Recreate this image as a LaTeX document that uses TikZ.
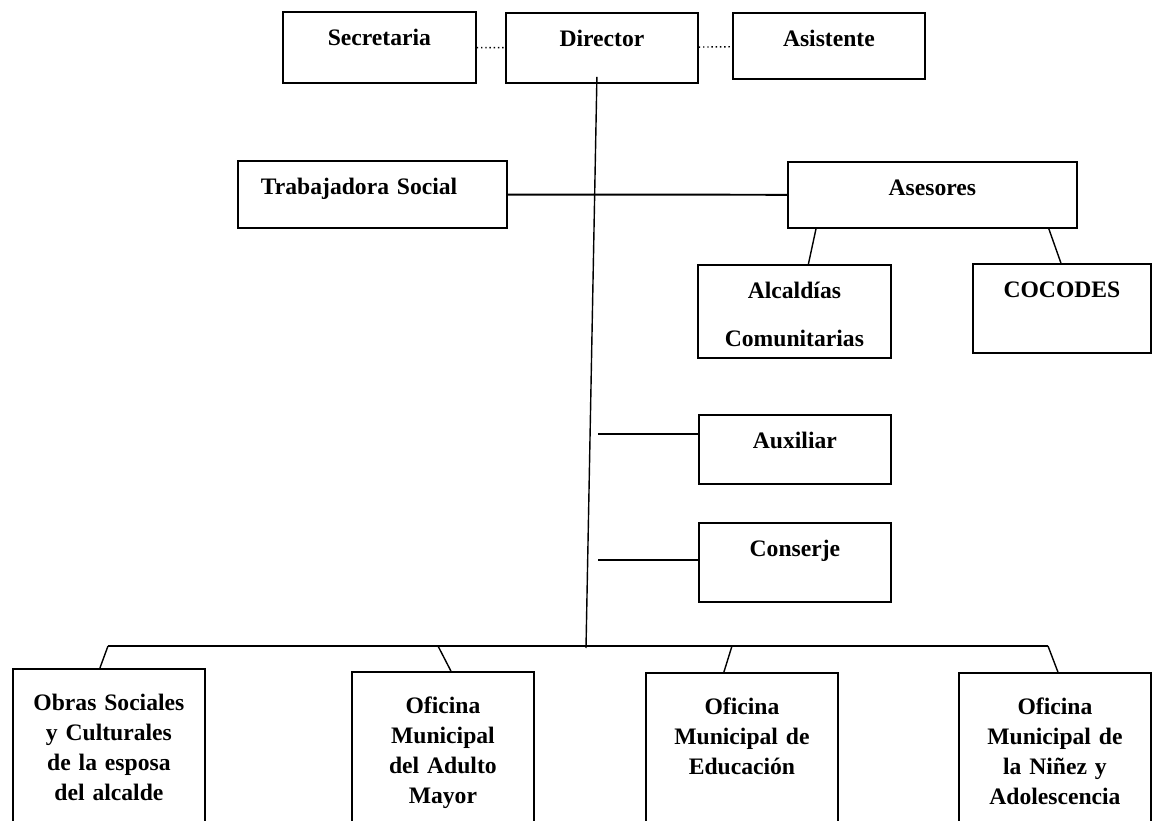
\documentclass[tikz,border=0pt]{standalone}
\usepackage{fontspec}
\setmainfont{Liberation Serif}
\usepackage{tikz}
\usetikzlibrary{calc}
\tikzstyle{orgbox}=[draw, line width=1.3pt, inner sep=0pt, anchor=north west, align=center, text width=4.8cm, text height=.85cm, font=\bfseries\fontsize{16.8}{21.3}\selectfont]
\tikzstyle{lowbox}=[orgbox, text height=1.05cm, text depth=3.5cm]
\tikzstyle{link}=[line width=1pt]
\begin{document}
\begin{tikzpicture}
	\clip (0,0) rectangle (28.825,-20.525);
%
	\node[orgbox, text width=4.825cm, text depth=.925cm] (sec) at (7.05,-.275) {Secretaria};
	\node[orgbox, text depth=.9cm] (dir) at (12.625,-.3) {Director};
	\node[orgbox, text depth=.8cm] (asis) at (18.3,-.3) {Asistente};
%
	\node[orgbox, align=left, text width=6.725cm, text depth=.825cm] (trab) at (5.925,-4) {\hspace*{.575cm}Trabajadora Social};
	\node[orgbox, text width=7.225cm, text depth=.8cm] (ases) at (19.675,-4.025) {Asesores};
	\node[orgbox, text width=4.825cm, text depth=1.475cm] (alc) at (17.425,-6.6) {Alcaldías\\[.45cm]Comunitarias};
	\node[orgbox, text width=4.45cm, text depth=1.375cm] (coc) at (24.3,-6.575) {COCODES};
%
	\node[orgbox, text depth=.875cm] (aux) at (17.45,-10.35) {Auxiliar};
	\node[orgbox, text depth=1.125cm] (cons) at (17.45,-13.05) {Conserje};
%
	\node[lowbox] (obras) at (.3,-16.7) {Obras Sociales\\y Culturales\\de la esposa\\del alcalde};
	\node[lowbox, text width=4.55cm] (adul) at (8.775,-16.775) {Oficina\\Municipal\\del Adulto\\Mayor};
	\node[lowbox] (edu) at (16.125,-16.8) {Oficina\\Municipal de\\Educación};
	\node[lowbox] (nin) at (23.95,-16.8) {Oficina\\Municipal de\\la Niñez y\\Adolescencia};
%
	\coordinate (trunktop) at ($(dir.south)+(-.125,.175)$);
	\coordinate (trunkbot) at (14.65,-16.2);
	\coordinate (auxstub) at (14.95,-10.85);
	\coordinate (consstub) at (14.95,-14);
	\coordinate (busL) at (2.7,-16.15);
	\coordinate (busA) at (10.95,-16.15);
	\coordinate (busE) at (18.3,-16.15);
	\coordinate (busR) at (26.2,-16.15);
%
	\draw[dotted, line width=1pt] (sec) -- (dir);
	\draw[dotted, line width=1pt] (dir) -- (asis);
%
	\draw[link] (trunktop) -- (trunkbot);
	\draw[line width=1.4pt] (trab) -- (ases);
	\draw[link] ($(ases.south west)+(.725,0)$) -- ($(alc.north)+(.35,0)$);
	\draw[link] ($(ases.south east)+(-.725,0)$) -- ($(coc.north)+(-.025,0)$);
	\draw[link] (auxstub) -- (auxstub -| aux.west);
	\draw[link] (consstub) -- (consstub -| cons.west);
%
	\draw[link] (busL) -- (busR);
	\draw[link] (busL) -- ($(obras.north)+(-.225,0)$);
	\draw[link] (busA) -- ($(adul.north)+(.2,0)$);
	\draw[link] (busE) -- ($(edu.north)+(-.45,0)$);
	\draw[link] (busR) -- ($(nin.north)+(.075,0)$);
\end{tikzpicture}
\end{document}
